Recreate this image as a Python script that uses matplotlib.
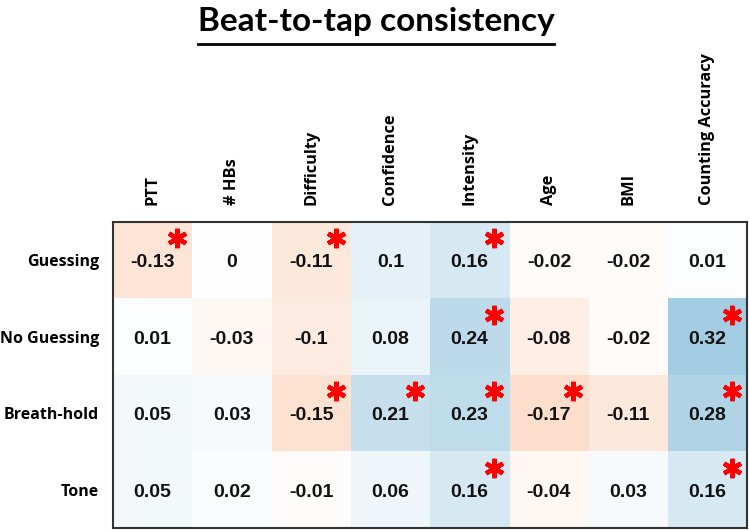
import matplotlib
matplotlib.use("Agg")
import matplotlib.pyplot as plt
import numpy as np
from matplotlib.colors import LinearSegmentedColormap
from matplotlib.lines import Line2D

rows = ["Guessing", "No Guessing", "Breath-hold", "Tone"]
cols = ["PTT", "# HBs", "Difficulty", "Confidence", "Intensity", "Age", "BMI", "Counting Accuracy"]
guessing = [-0.13, 0, -0.11, 0.1, 0.16, -0.02, -0.02, 0.01]
no_guessing = [0.01, -0.03, -0.1, 0.08, 0.24, -0.08, -0.02, 0.32]
breath_hold = [0.05, 0.03, -0.15, 0.21, 0.23, -0.17, -0.11, 0.28]
tone = [0.05, 0.02, -0.01, 0.06, 0.16, -0.04, 0.03, 0.16]
sig_guessing = [1, 0, 1, 0, 1, 0, 0, 0]
sig_no_guessing = [0, 0, 0, 0, 1, 0, 0, 1]
sig_breath_hold = [0, 0, 1, 1, 1, 1, 0, 1]
sig_tone = [0, 0, 0, 0, 1, 0, 0, 1]

vals = np.array([guessing, no_guessing, breath_hold, tone])
sig = np.array([sig_guessing, sig_no_guessing, sig_breath_hold, sig_tone])

base = ["#67001f", "#b2182b", "#d6604d", "#f4a582", "#fddbc7", "#ffffff",
        "#d1e5f0", "#92c5de", "#4393c3", "#2166ac", "#053061"]
cmap = LinearSegmentedColormap.from_list("rdbu_w", base)

W, H = 749, 532
fig = plt.figure(figsize=(W / 100, H / 100), dpi=100)
ax = fig.add_axes([113 / W, 4 / H, 634 / W, 306 / H])
ax.imshow(vals, cmap=cmap, vmin=-0.92, vmax=0.92, aspect="auto")

for i in range(vals.shape[0]):
    for j in range(vals.shape[1]):
        v = vals[i, j]
        s = "0" if v == 0 else f"{v:g}"
        ax.text(j, i + 0.03, s, ha="center", va="center", fontsize=14,
                fontweight="bold", family="Liberation Sans", color="#111111")
        if sig[i, j]:
            ax.plot(j + 0.31, i - 0.29, marker=(6, 2, 0), markersize=14,
                    markeredgewidth=3.2, color="#ff0000")

ax.set_xlim(-0.5, 7.5)
ax.set_ylim(3.5, -0.5)
ax.xaxis.tick_top()
ax.set_xticks(range(len(cols)))
ax.set_xticklabels(cols, rotation=90, fontsize=11.8, fontweight="bold",
                   family="Open Sans", va="bottom")
ax.set_yticks(range(len(rows)))
ax.set_yticklabels(rows, fontsize=11.5, fontweight="bold", family="Open Sans")
ax.tick_params(length=0, pad=12)
ax.tick_params(axis="y", pad=10)
for sp in ax.spines.values():
    sp.set_linewidth(1.5)
    sp.set_color("#333333")

t = fig.text(376 / W, 1 - 21 / H, "Beat-to-tap consistency", ha="center",
             va="center", fontsize=24, fontweight="bold", family="Lato")
fig.canvas.draw()
bb = t.get_window_extent(renderer=fig.canvas.get_renderer())
y_line = 1 - 44 / H
fig.add_artist(Line2D([bb.x0 / W, bb.x1 / W], [y_line, y_line],
                      transform=fig.transFigure, color="black", linewidth=2))

fig.savefig("out.png", dpi=100)
